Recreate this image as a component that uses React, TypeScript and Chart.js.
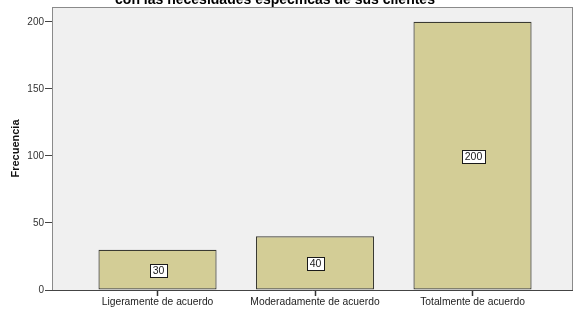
import React, { useEffect, useRef } from "react";
import { Chart, registerables } from "chart.js";

Chart.register(...registerables);

const categories = ["Ligeramente de acuerdo", "Moderadamente de acuerdo", "Totalmente de acuerdo"];
const frequencies = [30, 40, 200];
const yTicks = [0, 50, 100, 150, 200];
const titleText = "con las necesidades específicas de sus clientes";
const yTitle = "Frecuencia";

const FONT = "Arial, 'Liberation Sans', sans-serif";

const areaPlugin = {
  id: "areaPlugin",
  beforeDatasetsDraw(chart: any) {
    const { ctx, chartArea } = chart;
    ctx.save();
    ctx.fillStyle = "#f0f0f0";
    ctx.fillRect(chartArea.left, chartArea.top, chartArea.right - chartArea.left, chartArea.bottom - chartArea.top);
    ctx.strokeStyle = "#8a8a8a";
    ctx.lineWidth = 1;
    ctx.strokeRect(chartArea.left + 0.5, chartArea.top + 0.5, chartArea.right - chartArea.left - 1, chartArea.bottom - chartArea.top);
    ctx.restore();
  },
  afterDatasetsDraw(chart: any) {
    const { ctx } = chart;
    const meta = chart.getDatasetMeta(0);
    ctx.save();
    ctx.font = "10.5px " + FONT;
    meta.data.forEach((bar: any, i: number) => {
      const txt = String(frequencies[i]);
      const cy = Math.round((bar.y + bar.base) / 2);
      const cx = Math.round(bar.x);
      const w = Math.round(ctx.measureText(txt).width + 5);
      const h = 13;
      const x0 = Math.round(cx - w / 2) + 0.5;
      const y0 = Math.round(cy - h / 2) + 0.5;
      ctx.fillStyle = "#ffffff";
      ctx.fillRect(x0, y0, w, h);
      ctx.strokeStyle = "#1a1a1a";
      ctx.lineWidth = 1;
      ctx.strokeRect(x0, y0, w, h);
      ctx.fillStyle = "#1a1a1a";
      ctx.textAlign = "center";
      ctx.textBaseline = "middle";
      ctx.fillText(txt, cx + 0.5, cy + 1);
    });
    const a = chart.chartArea;
    ctx.strokeStyle = "#444";
    ctx.beginPath();
    ctx.moveTo(a.left, a.bottom + 0.5);
    ctx.lineTo(a.right, a.bottom + 0.5);
    ctx.stroke();
    ctx.font = "bold 14px " + FONT;
    ctx.fillStyle = "#000";
    ctx.textAlign = "center";
    ctx.textBaseline = "alphabetic";
    ctx.fillText(titleText, 275, 4);
    ctx.restore();
  },
};

export default function App() {
  const ref = useRef<HTMLCanvasElement | null>(null);
  useEffect(() => {
    document.body.style.margin = "0";
    const chart = new Chart(ref.current as HTMLCanvasElement, {
      type: "bar",
      data: {
        datasets: [
          {
            data: frequencies.map((v, i) => ({ x: i, y: v })),
            backgroundColor: "#d3cd96",
            borderColor: "#3a3a32",
            borderWidth: 1.2,
            borderSkipped: false,
            barPercentage: 0.75,
            categoryPercentage: 1,
          },
        ],
      },
      options: {
        animation: false,
        responsive: false,
        maintainAspectRatio: false,
        layout: { padding: { top: 7, right: 6, left: 0, bottom: 0 } },
        plugins: { legend: { display: false }, tooltip: { enabled: false } },
        scales: {
          x: {
            type: "linear",
            offset: false,
            min: -0.67,
            max: 2.638,
            afterBuildTicks: (s: any) => {
              s.ticks = categories.map((_, i) => ({ value: i }));
            },
            afterFit: (s: any) => {
              s.height = 19;
            },
            border: { display: false },
            grid: { offset: false, drawOnChartArea: false, drawTicks: true, tickLength: 6, tickColor: "#333", tickWidth: 1.5 },
            ticks: {
              autoSkip: false,
              maxRotation: 0,
              padding: 0,
              color: "#222",
              font: { size: 10.3, family: FONT },
              callback: (v: any) => categories[v] ?? "",
            },
          },
          y: {
            min: 0,
            max: 211,
            afterBuildTicks: (s: any) => {
              s.ticks = yTicks.map((v) => ({ value: v }));
            },
            afterFit: (s: any) => {
              s.width = 52;
            },
            border: { display: true, color: "#666" },
            grid: { drawOnChartArea: false, drawTicks: true, tickLength: 7, tickColor: "#444" },
            ticks: {
              padding: 1,
              color: "#333",
              font: { size: 10, family: FONT },
            },
            title: {
              display: true,
              text: yTitle,
              color: "#111",
              font: { size: 11, weight: "bold", family: FONT },
              padding: { top: 9, bottom: 0 },
            },
          },
        },
      },
      plugins: [areaPlugin],
    } as any);
    return () => chart.destroy();
  }, []);
  return (
    <div style={{ position: "absolute", left: 0, top: 0, width: 579, height: 309, background: "#fff" }}>
      <canvas ref={ref} width={579} height={309} style={{ display: "block" }} />
    </div>
  );
}
